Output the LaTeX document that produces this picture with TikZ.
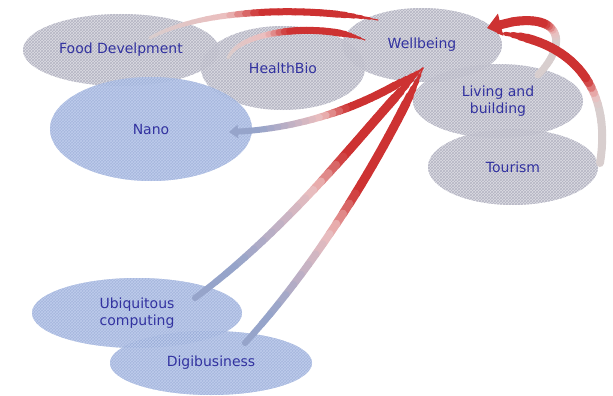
\documentclass[tikz,border=0pt]{standalone}
\usepackage{fontspec}
\setmainfont{DejaVu Sans}
\usetikzlibrary{shapes.geometric,patterns,arrows.meta}

\definecolor{bandred}{RGB}{205,50,50}
\definecolor{bandpink}{RGB}{236,190,190}
\definecolor{bandgray}{RGB}{216,206,206}
\definecolor{bandblue}{RGB}{150,164,202}
\definecolor{txtblue}{RGB}{50,50,160}
\definecolor{ellgray}{RGB}{214,214,222}
\definecolor{hatchgray}{RGB}{180,180,195}
\definecolor{ellblue}{RGB}{150,170,214}
\definecolor{hatchblue}{RGB}{190,204,236}

% points q0..q30 along a curve
\newcommand{\bandpath}[4]{%
  \foreach \bk in {0,...,30}{
    \pgfmathsetmacro\bpos{\bk/30}
    \path #1 .. controls #2 and #3 .. #4 coordinate[pos=\bpos] (q\bk);
  }}
% paint q#1..q#2 from colour #3 to #4, width #5 to #6
\newcommand{\paint}[6]{%
  \pgfmathtruncatemacro\klast{#2-1}
  \foreach \bk in {#1,...,\klast}{
    \pgfmathtruncatemacro\bkn{\bk+1}
    \pgfmathsetmacro\bandt{(\bk+0.5-#1)/(#2-#1)}
    \pgfmathtruncatemacro\bandpc{100*\bandt}
    \pgfmathsetmacro\bandw{#5+(#6-#5)*\bandt}
    \draw[line width=\bandw pt, line cap=round, color=#4!\bandpc!#3] (q\bk) -- (q\bkn);
  }}

\begin{document}
\begin{tikzpicture}[x=1pt,y=-1pt,
  grayell/.style={ellipse, inner sep=0pt, align=center, text=txtblue,
    font=\fontsize{14}{17}\selectfont,
    fill=ellgray, fill opacity=0.85, text opacity=1,
    postaction={pattern=crosshatch, pattern color=hatchgray}},
  blueell/.style={ellipse, inner sep=0pt, align=center, text=txtblue,
    font=\fontsize{14}{17}\selectfont,
    fill=ellblue, fill opacity=0.85, text opacity=1,
    postaction={pattern=crosshatch, pattern color=hatchblue}}]
\useasboundingbox (0,0) rectangle (613,396);

%topics
\node[grayell, minimum width=196pt, minimum height=72pt] (food) at (121,50) {Food Develpment};
\node[grayell, minimum width=164pt, minimum height=84pt] (health) at (283,68) {HealthBio};
\node[blueell, minimum width=202pt, minimum height=104pt] (nano) at (151,129) {Nano};
\node[grayell, minimum width=160pt, minimum height=74pt] (well) at (422,45) {Wellbeing};
\node[grayell, minimum width=170pt, minimum height=74pt] (living) at (498,101) {Living and\\building};
\node[grayell, minimum width=170pt, minimum height=76pt] (tourism) at (513,167) {Tourism};
\node[blueell, minimum width=210pt, minimum height=70pt] (ubi) at (137,313) {Ubiquitous\\computing};
\node[blueell, minimum width=202pt, minimum height=64pt] (digi) at (211,363) {Digibusiness};

%band ends
\coordinate (food-out) at (150,38);
\coordinate (health-out) at (228,58);
\coordinate (well-in1) at (378,20);
\coordinate (well-in2) at (365,40);
\coordinate (hub) at (423,68);
\coordinate (nano-in) at (229,132);
\coordinate (ubi-in) at (195,298);
\coordinate (digi-in) at (245,343);
\coordinate (living-out) at (538,75);
\coordinate (tourism-out) at (600,163);
\coordinate (well-in3) at (487,28);
\coordinate (well-in4) at (498,33);

%food -> wellbeing
\bandpath{(food-out)}{(200,10)}{(300,5)}{(well-in1)}
\paint{0}{12}{bandgray}{bandpink}{3}{6}
\paint{12}{16}{bandpink}{bandred}{6}{7}
\paint{16}{25}{bandred}{bandred}{7}{7}
\paint{25}{30}{bandred}{bandred}{7}{0.5}

%healthbio -> wellbeing
\bandpath{(health-out)}{(240,30)}{(320,22)}{(well-in2)}
\paint{0}{12}{bandgray}{bandpink}{3}{6}
\paint{12}{16}{bandpink}{bandred}{6}{7}
\paint{16}{25}{bandred}{bandred}{7}{7}
\paint{25}{30}{bandred}{bandred}{7}{0.5}

%wellbeing -> nano
\bandpath{(hub)}{(370,105)}{(300,130)}{(nano-in)}
\paint{0}{5}{bandred}{bandred}{0.5}{8}
\paint{5}{13}{bandred}{bandred}{8}{8}
\paint{13}{17}{bandred}{bandpink}{8}{7}
\paint{17}{26}{bandpink}{bandblue}{7}{6}
\paint{26}{28}{bandblue}{bandblue}{6}{6}
\draw[bandblue, line width=6pt, -{Triangle[length=9pt,width=13pt]}] (q28) -- (q30);

%wellbeing -> ubiquitous
\bandpath{(hub)}{(370,120)}{(300,220)}{(ubi-in)}
\paint{0}{5}{bandred}{bandred}{0.5}{9}
\paint{5}{13}{bandred}{bandred}{9}{9}
\paint{13}{17}{bandred}{bandpink}{9}{8}
\paint{17}{26}{bandpink}{bandblue}{8}{7}
\paint{26}{30}{bandblue}{bandblue}{7}{6}

%wellbeing -> digibusiness
\bandpath{(hub)}{(395,130)}{(330,250)}{(digi-in)}
\paint{0}{5}{bandred}{bandred}{0.5}{9}
\paint{5}{15}{bandred}{bandred}{9}{9}
\paint{15}{19}{bandred}{bandpink}{9}{8}
\paint{19}{27}{bandpink}{bandblue}{8}{7}
\paint{27}{30}{bandblue}{bandblue}{7}{6}

%living -> wellbeing
\bandpath{(living-out)}{(572,40)}{(560,5)}{(well-in3)}
\paint{0}{11}{bandgray}{bandgray}{7}{8}
\paint{11}{15}{bandgray}{bandpink}{8}{8}
\paint{15}{19}{bandpink}{bandred}{8}{9}
\paint{19}{26}{bandred}{bandred}{9}{9}
\draw[bandred, line width=9pt, -{Triangle[length=14pt,width=22pt]}] (q26) -- (q30);

%tourism -> wellbeing
\bandpath{(tourism-out)}{(612,90)}{(575,40)}{(well-in4)}
\paint{0}{9}{bandgray}{bandgray}{8}{8}
\paint{9}{11}{bandgray}{bandpink}{8}{8}
\paint{11}{14}{bandpink}{bandred}{8}{9}
\paint{14}{26}{bandred}{bandred}{9}{9}
\paint{26}{30}{bandred}{bandred}{9}{1}

\end{tikzpicture}
\end{document}
